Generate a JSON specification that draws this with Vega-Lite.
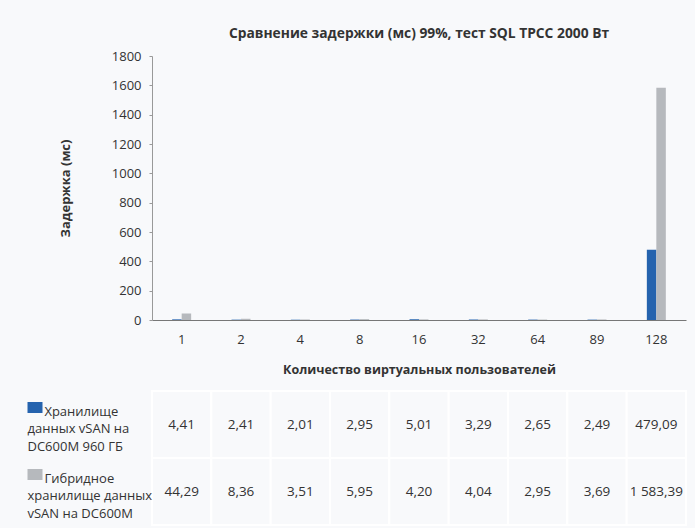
{
  "$schema": "https://vega.github.io/schema/vega-lite/v6.json",
  "background": "#f8f9fb",
  "padding": {"left": 21, "top": 27, "right": 9, "bottom": 2},
  "spacing": 14,
  "data": {
    "values": [
      {"users": "1", "series": "Хранилище данных vSAN на DC600M 960 ГБ", "value": 4.41},
      {"users": "2", "series": "Хранилище данных vSAN на DC600M 960 ГБ", "value": 2.41},
      {"users": "4", "series": "Хранилище данных vSAN на DC600M 960 ГБ", "value": 2.01},
      {"users": "8", "series": "Хранилище данных vSAN на DC600M 960 ГБ", "value": 2.95},
      {"users": "16", "series": "Хранилище данных vSAN на DC600M 960 ГБ", "value": 5.01},
      {"users": "32", "series": "Хранилище данных vSAN на DC600M 960 ГБ", "value": 3.29},
      {"users": "64", "series": "Хранилище данных vSAN на DC600M 960 ГБ", "value": 2.65},
      {"users": "89", "series": "Хранилище данных vSAN на DC600M 960 ГБ", "value": 2.49},
      {"users": "128", "series": "Хранилище данных vSAN на DC600M 960 ГБ", "value": 479.09},
      {"users": "1", "series": "Гибридное хранилище данных vSAN на DC600M", "value": 44.29},
      {"users": "2", "series": "Гибридное хранилище данных vSAN на DC600M", "value": 8.36},
      {"users": "4", "series": "Гибридное хранилище данных vSAN на DC600M", "value": 3.51},
      {"users": "8", "series": "Гибридное хранилище данных vSAN на DC600M", "value": 5.95},
      {"users": "16", "series": "Гибридное хранилище данных vSAN на DC600M", "value": 4.20},
      {"users": "32", "series": "Гибридное хранилище данных vSAN на DC600M", "value": 4.04},
      {"users": "64", "series": "Гибридное хранилище данных vSAN на DC600M", "value": 2.95},
      {"users": "89", "series": "Гибридное хранилище данных vSAN на DC600M", "value": 3.69},
      {"users": "128", "series": "Гибридное хранилище данных vSAN на DC600M", "value": 1583.39}
    ]
  },
  "config": {
    "font": "Open Sans",
    "locale": {"number": {"decimal": ",", "thousands": "\u00a0", "grouping": [3], "currency": ["", ""]}},
    "view": {"stroke": null},
    "axis": {"labelColor": "#333333", "titleColor": "#333333", "labelFontSize": 13, "grid": false}
  },
  "resolve": {"scale": {"x": "independent", "y": "independent", "color": "independent"}},
  "vconcat": [
    {
      "width": 534,
      "height": 264,
      "title": {"text": "Сравнение задержки (мс) 99%, тест SQL TPCC 2000 Вт", "fontSize": 13.8, "fontWeight": "bold", "color": "#333333", "frame": "group", "anchor": "middle", "offset": 9},
      "mark": {"type": "bar"},
      "encoding": {
        "x": {
          "field": "users", "type": "ordinal",
          "sort": ["1", "2", "4", "8", "16", "32", "64", "89", "128"],
          "scale": {"paddingInner": 0.68, "paddingOuter": 0.34},
          "axis": {"title": "Количество виртуальных пользователей", "labelAngle": 0, "ticks": false, "domainColor": "#777777", "labelPadding": 13, "titlePadding": 17, "titleFontSize": 12.5, "titleFontWeight": "bold"}
        },
        "xOffset": {"field": "series", "type": "nominal", "sort": ["Хранилище данных vSAN на DC600M 960 ГБ", "Гибридное хранилище данных vSAN на DC600M"]},
        "y": {
          "field": "value", "type": "quantitative",
          "scale": {"domain": [0, 1800], "nice": false},
          "axis": {"values": [0, 200, 400, 600, 800, 1000, 1200, 1400, 1600, 1800], "format": "d", "title": "Задержка (мс)", "tickSize": 3, "labelPadding": 8, "domainColor": "#999999", "tickColor": "#999999", "titlePadding": 39, "titleFontWeight": "bold", "titleFontSize": 13}
        },
        "color": {
          "field": "series", "type": "nominal",
          "scale": {"domain": ["Хранилище данных vSAN на DC600M 960 ГБ", "Гибридное хранилище данных vSAN на DC600M"], "range": ["#2563ae", "#b6b9bd"]},
          "legend": null
        }
      }
    },
    {
      "width": 534,
      "height": 134,
      "encoding": {
        "x": {
          "field": "users", "type": "ordinal",
          "sort": ["1", "2", "4", "8", "16", "32", "64", "89", "128"],
          "scale": {"paddingInner": 0, "paddingOuter": 0},
          "axis": null
        },
        "y": {
          "field": "series", "type": "nominal",
          "sort": ["Хранилище данных vSAN на DC600M 960 ГБ", "Гибридное хранилище данных vSAN на DC600M"],
          "scale": {"paddingInner": 0, "paddingOuter": 0},
          "axis": {
            "title": null, "domain": false, "ticks": true, "tickSize": 15, "tickWidth": 11,
            "tickColor": {"condition": {"test": "datum.value === 'Хранилище данных vSAN на DC600M 960 ГБ'", "value": "#2563ae"}, "value": "#b6b9bd"},
            "offset": 110, "labelPadding": 0, "labelAlign": "left", "labelFontSize": 13, "labelLineHeight": 17.5,
            "tickOffset": -18, "labelOffset": 4.5, "labelLimit": 0,
            "labelExpr": "datum.value === 'Хранилище данных vSAN на DC600M 960 ГБ' ? ['\u200b\u00a0\u00a0\u00a0\u00a0\u00a0Хранилище', 'данных vSAN на', 'DC600M 960 ГБ'] : ['\u200b\u00a0\u00a0\u00a0\u00a0\u00a0Гибридное', 'хранилище данных', 'vSAN на DC600M']"
          }
        }
      },
      "layer": [
        {"mark": {"type": "rect", "fill": "#f8f9fb", "stroke": "white", "strokeWidth": 2}},
        {"mark": {"type": "text", "fontSize": 13.5, "color": "#333333"}, "encoding": {"text": {"field": "value", "type": "quantitative", "format": ",.2f"}}}
      ]
    }
  ]
}
